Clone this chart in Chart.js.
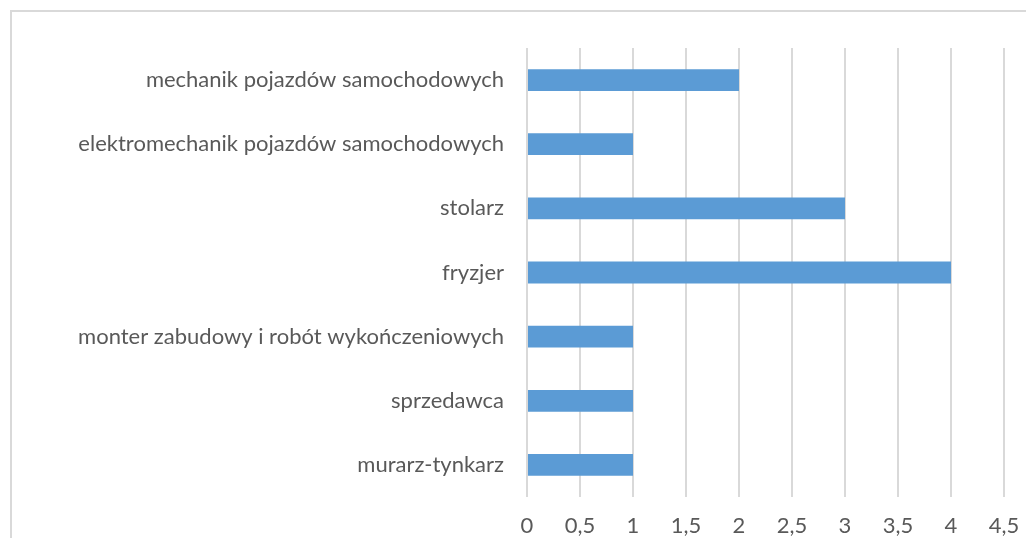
<!DOCTYPE html>
<html lang="pl">
<head>
  <meta charset="UTF-8">
  <title>Zawody</title>
  <script src="https://cdn.jsdelivr.net/npm/chart.js"></script>
  <style>
    html, body { margin: 0; padding: 0; overflow: hidden; background: #fff; }
    #wrap { position: relative; width: 1026px; height: 538px; }
    #frame { position: absolute; left: 10px; top: 10px; width: 1100px; height: 600px;
             border-left: 2px solid #d9d9d9; border-top: 2px solid #d9d9d9; }
    canvas { position: absolute; left: 0; top: 0; }
  </style>
</head>
<body>
  <div id="wrap">
    <div id="frame"></div>
    <canvas id="barChart" width="1026" height="538"></canvas>
  </div>
  <script>
    const categories = [
      'mechanik pojazdów samochodowych',
      'elektromechanik pojazdów samochodowych',
      'stolarz',
      'fryzjer',
      'monter zabudowy i robót wykończeniowych',
      'sprzedawca',
      'murarz-tynkarz'
    ];
    const counts = [2, 1, 3, 4, 1, 1, 1];
    const xMax = 4.5;
    const xStep = 0.5;

    const labelFont = { family: 'Lato', size: 22 };

    const ctx = document.getElementById('barChart').getContext('2d');
    new Chart(ctx, {
      type: 'bar',
      data: {
        labels: categories,
        datasets: [{
          data: counts,
          backgroundColor: '#5b9bd5',
          borderWidth: 0,
          barPercentage: 0.68,
          categoryPercentage: 0.5
        }]
      },
      options: {
        indexAxis: 'y',
        responsive: false,
        animation: false,
        layout: { padding: { top: 48, right: 22, left: 0, bottom: 0 } },
        plugins: { legend: { display: false }, tooltip: { enabled: false } },
        scales: {
          x: {
            min: 0,
            max: xMax,
            ticks: {
              stepSize: xStep,
              color: '#595959',
              font: labelFont,
              padding: 16,
              callback: v => String(v).replace('.', ',')
            },
            grid: { color: '#d9d9d9', lineWidth: 2, drawTicks: false },
            border: { display: false },
            afterFit: s => { s.height = 41; s.paddingRight = 0; s.paddingLeft = 0; }
          },
          y: {
            ticks: {
              color: '#595959',
              font: labelFont,
              padding: 23
            },
            grid: { display: false, drawTicks: false },
            border: { display: false },
            afterFit: s => { s.width = 527; }
          }
        }
      }
    });
  </script>
</body>
</html>
